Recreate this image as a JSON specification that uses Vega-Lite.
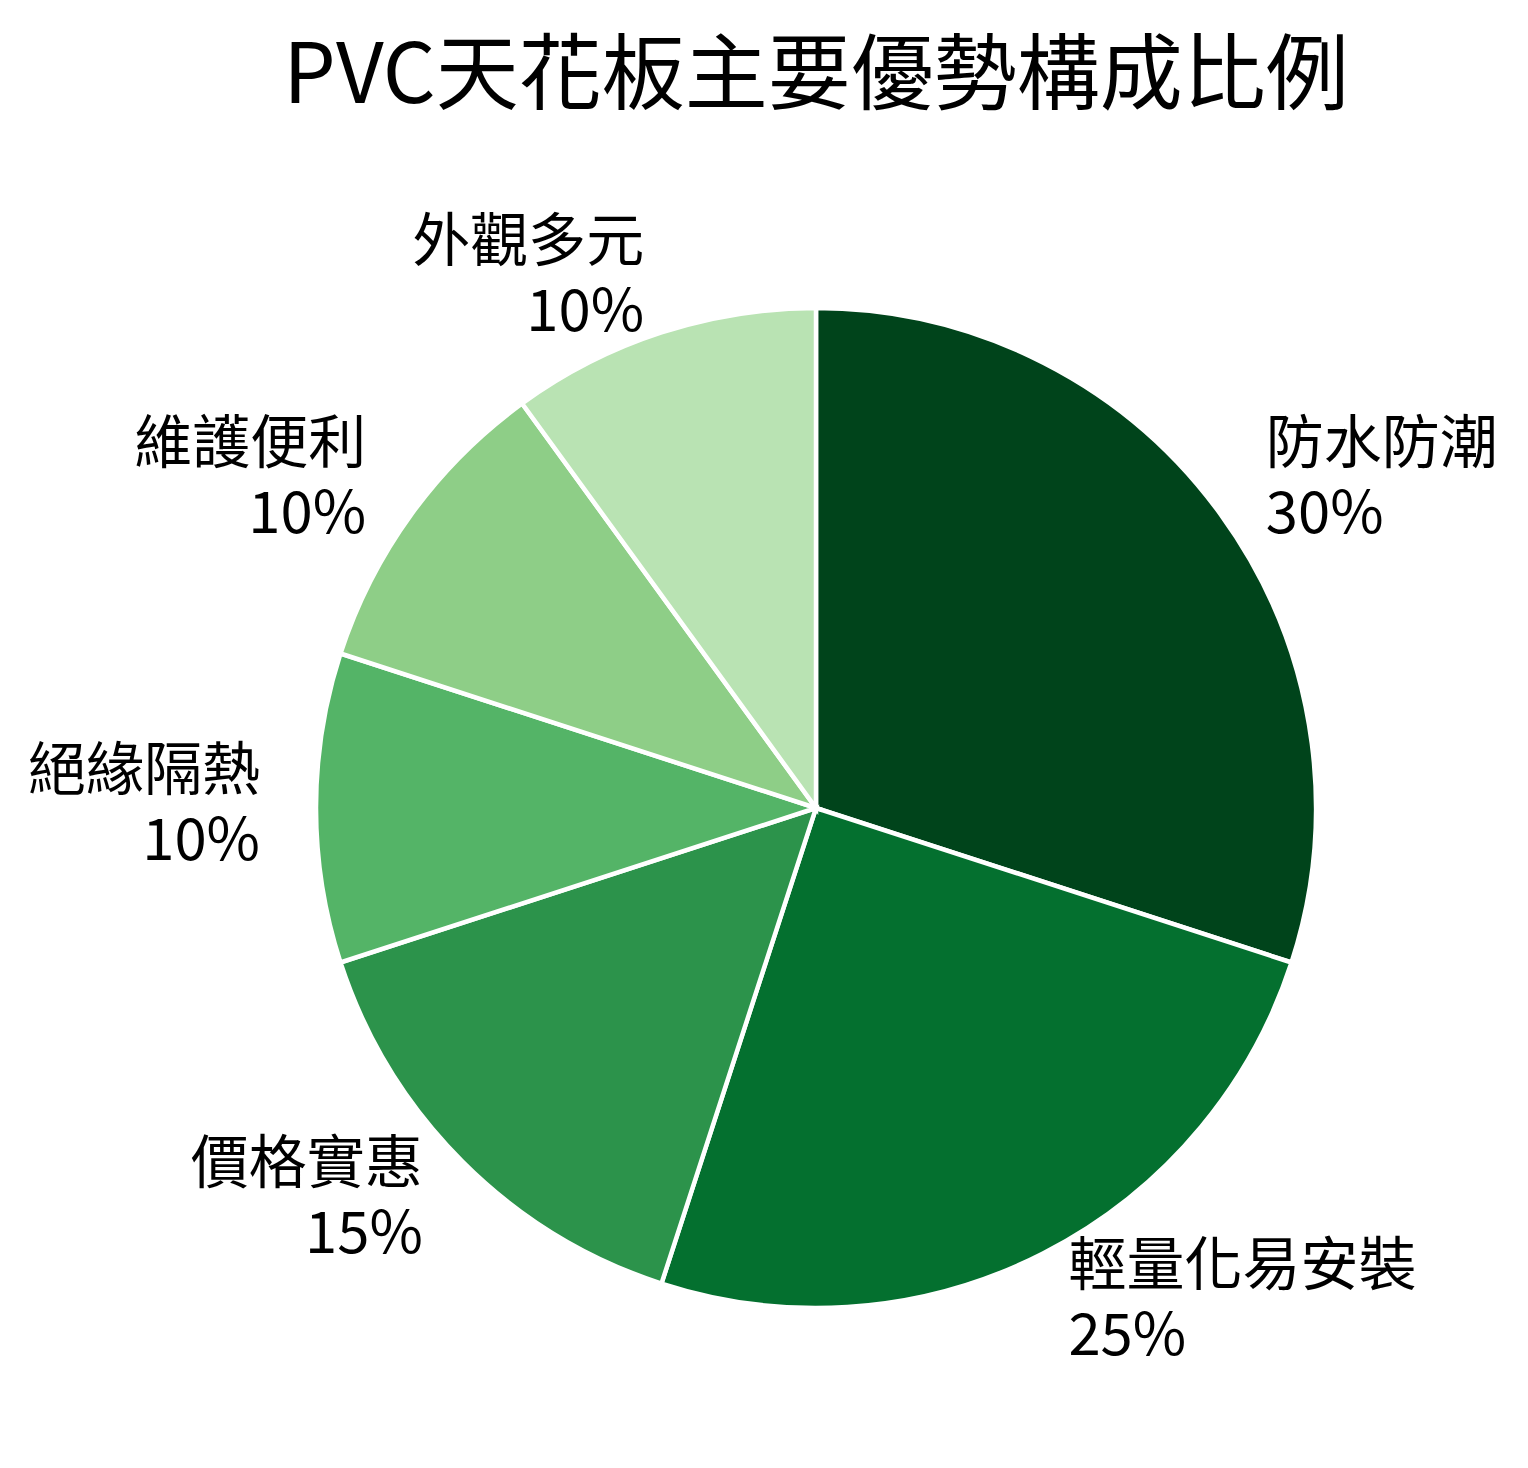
{
  "$schema": "https://vega.github.io/schema/vega-lite/v6.json",
  "width": 1424,
  "height": 1316,
  "autosize": {"type": "none"},
  "padding": {"left": 104, "right": 0, "top": 150, "bottom": 2},
  "background": "white",
  "config": {"view": {"stroke": null}, "font": "Noto Sans CJK TC"},
  "title": {
    "text": "PVC天花板主要優勢構成比例",
    "font": "Noto Sans CJK TC",
    "fontSize": 83,
    "fontWeight": "normal",
    "color": "#000000",
    "anchor": "middle",
    "offset": 30
  },
  "data": {
    "values": [
      {"name": "防水防潮", "share": 0.30, "order": 1},
      {"name": "輕量化易安裝", "share": 0.25, "order": 2},
      {"name": "價格實惠", "share": 0.15, "order": 3},
      {"name": "絕緣隔熱", "share": 0.10, "order": 4},
      {"name": "維護便利", "share": 0.10, "order": 5},
      {"name": "外觀多元", "share": 0.10, "order": 6}
    ]
  },
  "encoding": {
    "theta": {"field": "share", "type": "quantitative", "stack": true},
    "order": {"field": "order", "type": "quantitative", "sort": "ascending"}
  },
  "layer": [
    {
      "mark": {"type": "arc", "radius": 500, "stroke": "#ffffff", "strokeWidth": 4.5},
      "encoding": {
        "color": {
          "field": "name",
          "type": "nominal",
          "sort": null,
          "scale": {
            "domain": ["防水防潮", "輕量化易安裝", "價格實惠", "絕緣隔熱", "維護便利", "外觀多元"],
            "range": ["#00441b", "#04702f", "#2c934b", "#54b467", "#8ece87", "#b9e3b3"]
          },
          "legend": null
        }
      }
    },
    {
      "mark": {
        "type": "text",
        "radius": 556,
        "fontSize": 58,
        "font": "Noto Sans CJK TC",
        "color": "#000000",
        "baseline": "middle",
        "dy": -35,
        "align": {"expr": "datum.order <= 2 ? 'left' : 'right'"}
      },
      "encoding": {"text": {"field": "name", "type": "nominal"}}
    },
    {
      "mark": {
        "type": "text",
        "radius": 556,
        "fontSize": 58,
        "font": "Noto Sans CJK TC",
        "color": "#000000",
        "baseline": "middle",
        "dy": 35,
        "align": {"expr": "datum.order <= 2 ? 'left' : 'right'"}
      },
      "encoding": {"text": {"field": "share", "type": "quantitative", "format": ".0%"}}
    }
  ]
}
